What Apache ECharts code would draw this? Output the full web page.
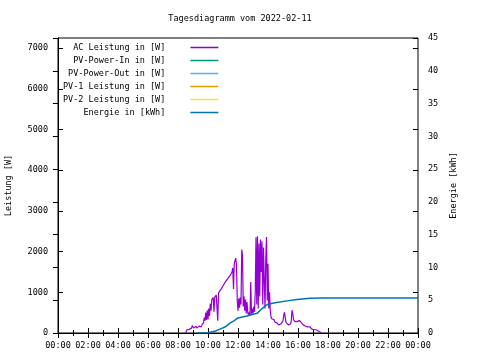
<!DOCTYPE html>
<html><head><meta charset="utf-8">
<script src="https://cdn.jsdelivr.net/npm/echarts@6/dist/echarts.min.js"></script>
<style>html,body{margin:0;padding:0;background:#fff}#c{width:480px;height:360px}</style>
</head><body><div id="c"></div>
<script>
var titleText = 'Tagesdiagramm vom 2022-02-11';
var seriesNames = ['AC Leistung in [W]','PV-Power-In in [W]','PV-Power-Out in [W]','PV-1 Leistung in [W]','PV-2 Leistung in [W]','Energie in [kWh]'];
var seriesColors = ['#9400d3','#009e73','#56b4e9','#e69f00','#f0e442','#0072b2'];
var xTickLabels = ['00:00','02:00','04:00','06:00','08:00','10:00','12:00','14:00','16:00','18:00','20:00','22:00','00:00'];

var acTimes = [
'08:30','08:33','08:36','08:39','08:42','08:45','08:48','08:51','08:54','08:57',
'09:00','09:03','09:06','09:09','09:12','09:15','09:18','09:21','09:24','09:27','09:30','09:33','09:36','09:39','09:42','09:45','09:48','09:51','09:54','09:57',
'10:00','10:03','10:06','10:09','10:12','10:15','10:18','10:21','10:24','10:27','10:30','10:33','10:36','10:39','10:42','10:45','10:48','10:51','10:54','10:57',
'11:00','11:03','11:06','11:09','11:12','11:15','11:18','11:21','11:24','11:27','11:30','11:33','11:36','11:39','11:42','11:45','11:48','11:51','11:54','11:57',
'12:00','12:03','12:06','12:09','12:12','12:15','12:18','12:21','12:24','12:27','12:30','12:33','12:36','12:39','12:42','12:45','12:48','12:51','12:54','12:57',
'13:00','13:03','13:06','13:09','13:12','13:15','13:18','13:21','13:24','13:27','13:30','13:33','13:36','13:39','13:42','13:45','13:48','13:51','13:54','13:57',
'14:00','14:03','14:06','14:09','14:12','14:15','14:18','14:21','14:24','14:27','14:30','14:33','14:36','14:39','14:42','14:45','14:48','14:51','14:54','14:57',
'15:00','15:03','15:06','15:09','15:12','15:15','15:18','15:21','15:24','15:27','15:30','15:33','15:36','15:39','15:42','15:45','15:48','15:51','15:54','15:57',
'16:00','16:03','16:06','16:09','16:12','16:15','16:18','16:21','16:24','16:27','16:30','16:33','16:36','16:39','16:42','16:45','16:48','16:51','16:54','16:57',
'17:00','17:03','17:06','17:09','17:12','17:15','17:18','17:21','17:24','17:27','17:30','17:33'];
var acValues = [
0,40,80,60,110,90,130,70,120,180,
220,120,150,100,170,120,160,130,170,140,180,150,200,170,250,380,300,500,320,560,
330,600,420,720,550,820,780,870,520,880,850,930,900,300,980,1000,1040,1000,1090,1110,
1160,1200,1150,1250,1280,1260,1330,1350,1380,1400,1430,1460,1500,1600,1080,1700,1780,1840,1650,800,
550,850,620,880,700,2050,1900,650,900,550,820,480,760,500,450,520,430,1250,450,600,
480,650,520,1000,2350,700,2380,600,2200,900,2300,1500,2250,700,2100,1300,600,1800,2360,800,
1700,600,1000,550,400,350,380,320,330,270,260,230,250,210,200,230,200,220,210,200,
300,440,510,380,260,230,220,200,230,210,220,300,560,480,330,300,280,310,270,280,
300,290,310,280,260,290,220,200,190,180,170,180,160,150,170,140,150,120,100,90,
100,80,90,70,80,60,70,50,40,30,20,0];

var energyTimes = ['09:20','10:00','10:30','10:48','11:12','11:28','11:45','12:00','12:36','13:16','13:36','13:48','14:00','14:28','15:16','15:56','16:48','17:36','24:00'];
var energyValues = [0,0.05,0.3,0.6,1.0,1.5,1.9,2.3,2.6,3.0,3.7,4.1,4.4,4.6,4.9,5.1,5.3,5.35,5.35];

function toHour(t){var p=t.split(':');return +p[0]+(+p[1])/60;}
function pairs(ts,vs){return ts.map(function(t,i){return [toHour(t),vs[i]];});}

var FONT = 'DejaVu Sans Mono';
var FS = 8.5;
var chart = echarts.init(document.getElementById('c'));
var series = seriesNames.map(function(n,i){
  var data = [];
  if(i===0) data = pairs(acTimes, acValues);
  if(i===5) data = pairs(energyTimes, energyValues);
  return {name:n, type:'line', symbol:'none', data:data, yAxisIndex: i===5?1:0,
    lineStyle:{color:seriesColors[i], width: i===5?1.5:1.2}, itemStyle:{color:seriesColors[i]}, animation:false};
});
chart.setOption({
  animation:false,
  backgroundColor:'#fff',
  title:{text:titleText, left:'center', top:9, textStyle:{fontFamily:FONT, fontSize:FS, fontWeight:'normal', color:'#000'}},
  legend:{orient:'vertical', left:63, top:43, padding:0, itemGap:4, itemWidth:28, itemHeight:1.5, icon:'rect', align:'right',
    data:seriesNames,
    formatter:function(n){return '{a|'+n+'}';},
    textStyle:{fontFamily:FONT, fontSize:FS, color:'#000', rich:{a:{width:115, align:'right', padding:[0,20,0,0], fontFamily:FONT, fontSize:FS, color:'#000'}}}},
  grid:{left:58, right:62, top:38, bottom:27, show:true, borderColor:'#000', borderWidth:1, outerBoundsMode:'none', containLabel:false},
  xAxis:[{type:'value', min:0, max:24, interval:2,
    axisLine:{lineStyle:{color:'#000'}},
    axisTick:{inside:true, length:5, lineStyle:{color:'#000'}},
    minorTick:{show:true, splitNumber:2, length:3, lineStyle:{color:'#000'}},
    splitLine:{show:false},
    axisLabel:{fontFamily:FONT, fontSize:FS, color:'#000', margin:8, formatter:function(v){return xTickLabels[Math.round(v/2)];}}},
   {type:'value', min:0, max:24, interval:2, position:'top',
    axisLine:{show:false}, axisTick:{inside:true, length:5, lineStyle:{color:'#000'}},
    minorTick:{show:true, splitNumber:2, length:3, lineStyle:{color:'#000'}},
    splitLine:{show:false}, axisLabel:{show:false}}],
  yAxis:[{type:'value', min:0, max:7250, interval:1000, position:'left',
    name:'Leistung [W]', nameLocation:'middle', nameGap:45, nameRotate:90,
    nameTextStyle:{fontFamily:FONT, fontSize:FS, color:'#000'},
    axisLine:{show:true, lineStyle:{color:'#000'}},
    axisTick:{inside:true, length:5, lineStyle:{color:'#000'}},
    splitLine:{show:false},
    axisLabel:{fontFamily:FONT, fontSize:FS, color:'#000', margin:10, showMaxLabel:false, formatter:function(v){return v%1000===0?String(v):'';}}},
   {type:'value', min:0, max:45, interval:5, position:'right',
    name:'Energie [kWh]', nameLocation:'middle', nameGap:30, nameRotate:90,
    nameTextStyle:{fontFamily:FONT, fontSize:FS, color:'#000'},
    axisLine:{show:true, lineStyle:{color:'#000'}},
    axisTick:{inside:true, length:5, lineStyle:{color:'#000'}},
    splitLine:{show:false},
    axisLabel:{fontFamily:FONT, fontSize:FS, color:'#000', margin:10}},
   {type:'value', min:0, max:7250, interval:1000, position:'right',
    axisLine:{show:false}, axisTick:{inside:true, length:5, lineStyle:{color:'#000'}},
    splitLine:{show:false}, axisLabel:{show:false}}],
  series:series
});
</script></body></html>
